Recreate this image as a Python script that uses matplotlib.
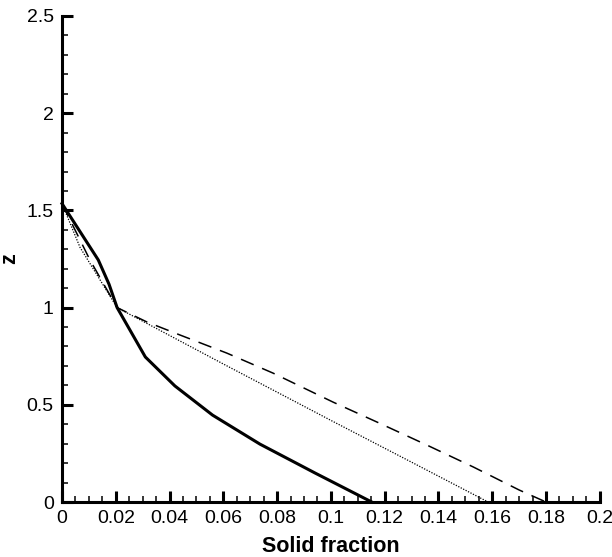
import matplotlib
matplotlib.use("Agg")
import matplotlib.pyplot as plt
from matplotlib.ticker import MultipleLocator, FormatStrFormatter

plt.rcParams['font.family'] = ['Liberation Sans', 'DejaVu Sans']

# Solid line
solid_x = [0.0, 0.0135, 0.0175, 0.0205, 0.031, 0.042, 0.056, 0.0736, 0.0885, 0.094, 0.1152]
solid_z = [1.535, 1.245, 1.12, 1.0, 0.746, 0.597, 0.447, 0.298, 0.19, 0.15, 0.0]

# Dashed line
dash_x = [0.0, 0.0104, 0.0205, 0.0316, 0.0439, 0.0613, 0.0785, 0.1008, 0.118, 0.1357, 0.153, 0.170, 0.180]
dash_z = [1.535, 1.245, 1.0, 0.926, 0.859, 0.766, 0.663, 0.514, 0.406, 0.293, 0.18, 0.062, 0.0]

# Dotted line
dot_x = [0.0, 0.0067, 0.0205, 0.06, 0.10, 0.13, 0.1585]
dot_z = [1.535, 1.31, 1.0, 0.71, 0.42, 0.205, 0.0]

fig = plt.figure(figsize=(6.12, 5.57), dpi=100)
ax = fig.add_axes([0.1013, 0.0987, 0.8787, 0.8726])

ax.plot(solid_x, solid_z, color='black', lw=2.2, solid_joinstyle='round', clip_on=False)
ax.plot(dash_x, dash_z, color='black', lw=1.1, dashes=(9, 6), clip_on=False)
ax.plot(dot_x, dot_z, color='black', lw=0.9, dashes=(1, 1.2), clip_on=False)

ax.set_xlim(0, 0.2)
ax.set_ylim(0, 2.5)

for s in ['top', 'right']:
    ax.spines[s].set_visible(False)
for s in ['left', 'bottom']:
    ax.spines[s].set_linewidth(2.2)

ax.xaxis.set_major_locator(MultipleLocator(0.02))
ax.xaxis.set_minor_locator(MultipleLocator(0.005))
ax.yaxis.set_major_locator(MultipleLocator(0.5))
ax.yaxis.set_minor_locator(MultipleLocator(0.1))
ax.xaxis.set_major_formatter(FormatStrFormatter('%g'))
ax.yaxis.set_major_formatter(FormatStrFormatter('%g'))

ax.tick_params(which='major', direction='in', length=8, width=2.2, labelsize=14, pad=6)
ax.tick_params(which='minor', direction='in', length=4.5, width=1.1)
ax.tick_params(top=False, right=False, which='both')

ax.set_xlabel('Solid fraction', fontsize=15.5, fontweight='bold', labelpad=6)
ax.set_ylabel('z', fontsize=15.5, fontweight='bold')
ax.yaxis.set_label_coords(-0.078, 0.5)

fig.savefig('out.png', dpi=100)
